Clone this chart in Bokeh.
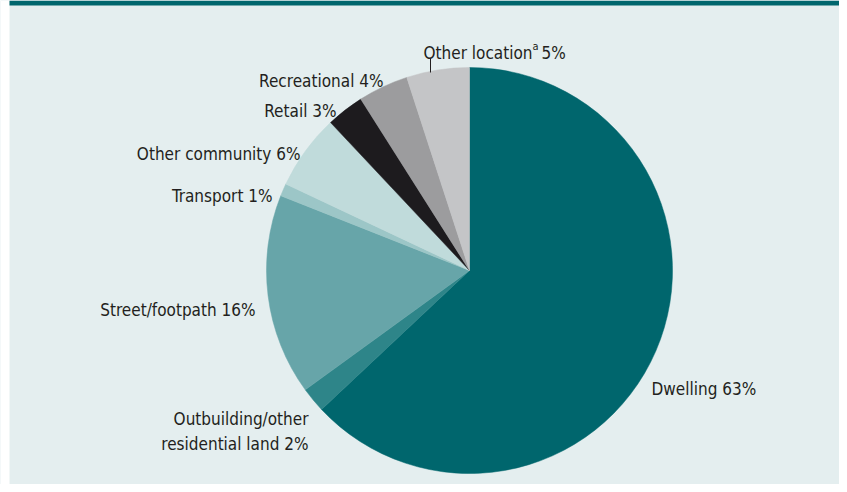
import math
from bokeh.plotting import figure
from bokeh.models import Range1d, ColumnDataSource
from bokeh.core.properties import value
from bokeh.embed import file_html
from bokeh.resources import INLINE

# ---- data ----
categories = ["Dwelling", "Outbuilding/other residential land", "Street/footpath",
              "Transport", "Other community", "Retail", "Recreational", "Other location"]
values = [63, 2, 16, 1, 6, 3, 4, 5]
colors = ["#00666d", "#2e8589", "#67a5a9", "#9cc6c7", "#c0dbdb", "#1d1b1e", "#9c9c9e", "#c4c5c7"]

# ---- layout (pixel coordinates, y measured from bottom of figure) ----
W, H = 839, 484
PANEL = "#e4eeef"
TEAL = "#00666d"
TXT = "#231f20"
FONT = "DejaVu Sans Condensed"
FS = "17px"
cx, cy, R = 469, 214, 203

p = figure(width=W, height=H, output_backend="svg", toolbar_location=None,
           x_range=Range1d(0, W), y_range=Range1d(0, H), min_border=0,
           background_fill_color=PANEL, border_fill_color="white")
p.axis.visible = False
p.grid.visible = False
p.outline_line_color = None

# white left strip and top band
p.quad(left=[0], right=[9], bottom=[0], top=[H], fill_color="white", line_color=None)
p.quad(left=[9], right=[W], bottom=[H - 5], top=[H], fill_color=TEAL, line_color=None)

# pie wedges, clockwise from 12 o'clock
total = sum(values)
starts, ends = [], []
cum = 0
for v in values:
    starts.append(math.pi / 2 - 2 * math.pi * cum / total)
    cum += v
    ends.append(math.pi / 2 - 2 * math.pi * cum / total)
src = ColumnDataSource(dict(start=starts, end=ends, color=colors))
p.wedge(x=cx, y=cy, radius=R, start_angle="start", end_angle="end",
        direction="clock", fill_color="color", line_color="color", line_width=0.5, source=src)

# labels
lab = {c: f"{c} {v}%" for c, v in zip(categories, values)}
right_labels = [
    ("Recreational", 383, 404),
    ("Retail", 336, 374),
    ("Other community", 300, 331),
    ("Transport", 272, 289),
    ("Street/footpath", 255, 175),
]
p.text(x=[r[1] for r in right_labels], y=[r[2] for r in right_labels],
       text=[lab[r[0]] for r in right_labels], text_align="right",
       text_baseline="alphabetic", text_font=value(FONT), text_font_size=FS, text_color=TXT)

ob_val = values[categories.index("Outbuilding/other residential land")]
p.text(x=[308, 308], y=[66, 41], text=["Outbuilding/other", f"residential land {ob_val}%"],
       text_align="right", text_baseline="alphabetic", text_font=value(FONT),
       text_font_size=FS, text_color=TXT)

p.text(x=[651], y=[96], text=[lab["Dwelling"]], text_align="left",
       text_baseline="alphabetic", text_font=value(FONT), text_font_size=FS, text_color=TXT)

ol_val = values[categories.index("Other location")]
p.text(x=[423], y=[432], text=["Other location"], text_align="left",
       text_baseline="alphabetic", text_font=value(FONT), text_font_size=FS, text_color=TXT)
p.text(x=[532], y=[438], text=["a"], text_align="left",
       text_baseline="alphabetic", text_font=value(FONT), text_font_size="11px", text_color=TXT)
p.text(x=[541], y=[432], text=[f"{ol_val}%"], text_align="left",
       text_baseline="alphabetic", text_font=value(FONT), text_font_size=FS, text_color=TXT)
p.segment(x0=[430], y0=[426], x1=[430], y1=[412], line_color=TXT, line_width=1)

open("out.html", "w").write(file_html(p, INLINE))
